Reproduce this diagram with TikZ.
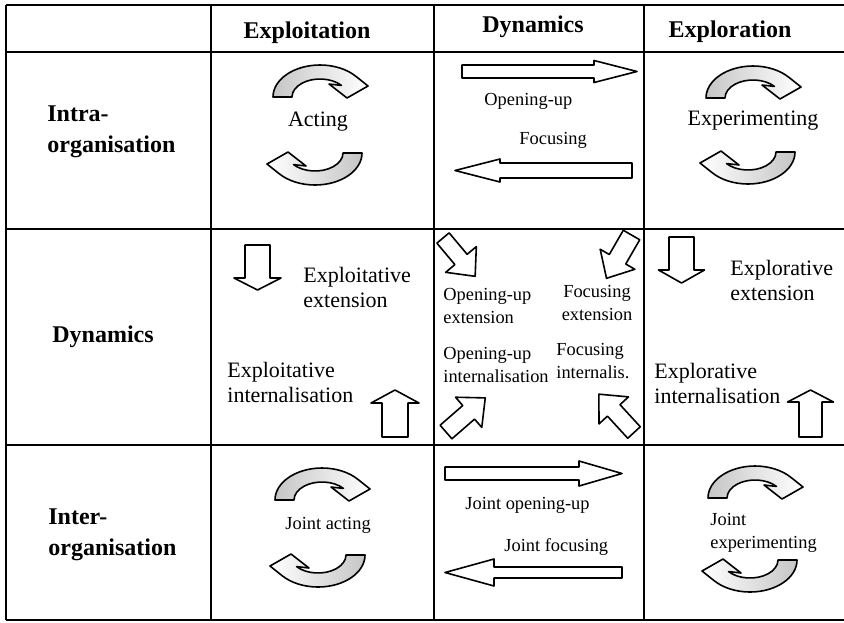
\documentclass[tikz,border=0pt]{standalone}
\usepackage{fontspec}
\setmainfont{Liberation Serif}
\begin{document}
\begin{tikzpicture}[x=0.5pt,y=0.5pt,line join=round,
	big/.style={font=\fontsize{12}{15.5}\selectfont\bfseries,inner sep=0pt,align=left},
	mid/.style={font=\fontsize{11}{12.5}\selectfont,inner sep=0pt,align=left},
	small/.style={font=\fontsize{9.2}{11.5}\selectfont,inner sep=0pt,align=left},
	pics/blockarr/.style args={#1/#2/#3/#4}{code={
		\draw[line width=0.8pt,fill=white] (0,-#3) -- (#1-#2,-#3) -- (#1-#2,-#4) -- (#1,0)
		-- (#1-#2,#4) -- (#1-#2,#3) -- (0,#3) -- cycle;}},
	pics/cycletop/.style={code={
		\draw[line width=0.8pt,left color=gray!45,right color=white]
		(-47,0) arc[start angle=180,end angle=40,x radius=47,y radius=32]
		-- (48,11) -- (27,-1) -- (9,13) -- (40:28 and 18)
		arc[start angle=40,end angle=180,x radius=28,y radius=18] -- cycle;}},
	pics/cyclebottom/.style={code={
		\draw[line width=0.8pt,right color=gray!45,left color=white]
		(47,0) arc[start angle=360,end angle=220,x radius=47,y radius=32]
		-- (-48,-11) -- (-27,1) -- (-9,-13) -- (220:28 and 18)
		arc[start angle=220,end angle=360,x radius=28,y radius=18] -- cycle;}}]
	\useasboundingbox (0,0) rectangle (844,-622);
	%	grid
	\foreach \y in {5,52,229,445,620}\draw[line width=0.6pt] (6,-\y) -- (844,-\y);
	\foreach \x in {6,211,434,644}\draw[line width=0.6pt] (\x,-5) -- (\x,-620);
	%	headings
	\node[big,anchor=base] (exploit) at (307,-38) {Exploitation};
	\node[big,anchor=base] (dynhead) at (533,-32) {Dynamics};
	\node[big,anchor=base] (explore) at (730,-37) {Exploration};
	\node[big,anchor=north west] (intra) at (47,-105) {Intra-\\organisation};
	\node[big,anchor=north west] (dynrow) at (52,-325) {Dynamics};
	\node[big,anchor=north west] (inter) at (48,-508) {Inter-\\organisation};
	%	cycles
	\foreach \a/\b/\c/\d in {320/97/315/153,753/98/748/152,322/500/318/555,755/498/750/560}{
		\pic at (\a,-\b) {cycletop};
		\pic at (\c,-\d) {cyclebottom};
	}
	\node[mid] (acting) at (318,-122) {Acting};
	\node[mid] (experimenting) at (753,-121) {Experimenting};
	\node[small,anchor=north west] (jointacting) at (285,-517) {Joint acting};
	\node[small,anchor=north west] (jointexp) at (710,-513) {Joint\\experimenting};
	%	straight arrows
	\pic at (462,-71.5) {blockarr=175/43/6.5/11};
	\pic[rotate=180] at (632,-170.5) {blockarr=177/45/7.5/11.5};
	\pic at (445,-473.5) {blockarr=177/43/6.5/12.5};
	\pic[rotate=180] at (622,-572.5) {blockarr=177/49/5.5/13.5};
	\node[small,anchor=north west] (openup) at (484,-93) {Opening-up};
	\node[small,anchor=north west] (focus) at (519,-132) {Focusing};
	\node[small,anchor=north west] (jointopen) at (465,-497) {Joint opening-up};
	\node[small,anchor=north west] (jointfocus) at (504,-538) {Joint focusing};
	%	extension and internalisation
	\pic[rotate=-90] at (257.5,-245) {blockarr=45/12/12.5/23.5};
	\pic[rotate=90] at (395,-437) {blockarr=47/13/13/24};
	\pic[rotate=-90] at (681.5,-237) {blockarr=46/13/12.5/23};
	\pic[rotate=90] at (810.5,-437) {blockarr=47/12/11.5/23};
	\pic[rotate=-50] at (443,-238) {blockarr=50/22/8/20};
	\pic[rotate=-120] at (631.5,-235) {blockarr=50/22/9.5/20};
	\pic[rotate=41] at (446,-432) {blockarr=52/22/9/20};
	\pic[rotate=132.5] at (634,-432.5) {blockarr=52/22/8.5/20};
	\node[mid,anchor=north west] (exploitext) at (303,-267) {Exploitative\\extension};
	\node[mid,anchor=north west] (exploitint) at (227,-362) {Exploitative\\internalisation};
	\node[mid,anchor=north west] (exploreext) at (730,-260) {Explorative\\extension};
	\node[mid,anchor=north west] (exploreint) at (654,-363) {Explorative\\internalisation};
	\node[small,anchor=north west] (openext) at (443,-288) {Opening-up\\extension};
	\node[small,anchor=north,align=center] (focext) at (597,-285) {Focusing\\extension};
	\node[small,anchor=north west] (openint) at (443,-347) {Opening-up\\internalisation};
	\node[small,anchor=north west] (focint) at (556,-343) {Focusing\\internalis.};
\end{tikzpicture}
\end{document}
